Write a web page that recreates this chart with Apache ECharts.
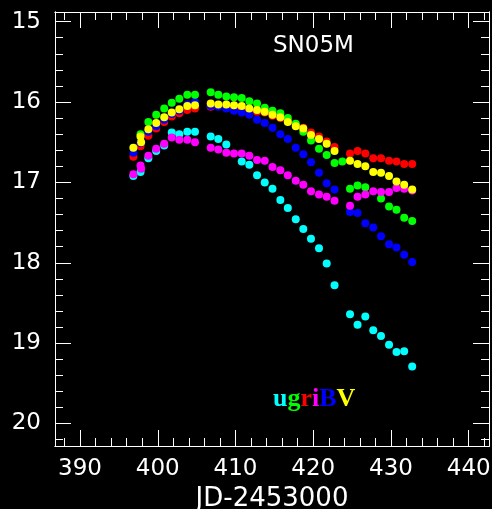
<!DOCTYPE html>
<html>
<head>
<meta charset="utf-8">
<script src="https://cdn.jsdelivr.net/npm/echarts@6/dist/echarts.min.js"></script>
<style>
html,body{margin:0;padding:0;background:#000;}
#c{width:492px;height:509px;}
</style>
</head>
<body>
<div id="c"></div>
<script>
// Epochs (JD - 2453000)
var jd = [396.86, 397.78, 397.86, 398.79, 399.80, 400.83, 401.80, 402.77, 403.80, 404.79,
          406.81, 407.79, 408.82, 409.81, 410.80, 411.78, 412.77, 413.76, 414.76, 415.77,
          416.73, 417.75, 418.72, 419.71, 420.74, 421.73, 422.74, 423.74, 424.73, 425.70,
          426.70, 427.72, 428.72, 429.75, 430.71, 431.70, 432.73];
var magU = [16.92, 16.87, null, 16.70, 16.61, 16.54, 16.38, 16.40, 16.37, 16.37,
            16.43, 16.46, 16.53, null, 16.74, 16.78, 16.91, 17.00, 17.08, 17.22,
            17.32, 17.46, 17.58, 17.70, 17.82, 18.01, 18.28, null, 18.64, 18.77,
            18.67, 18.84, 18.91, 19.02, 19.11, 19.10, 19.29];
var magR = [16.68, 16.55, null, 16.42, 16.33, 16.25, 16.18, 16.14, 16.10, 16.08,
            16.06, 16.05, 16.06, 16.07, 16.07, 16.10, 16.12, 16.13, 16.17, 16.20,
            16.24, 16.28, 16.32, 16.38, 16.43, 16.49, 16.56, null, 16.64, 16.61,
            16.64, 16.70, 16.70, 16.73, 16.74, 16.77, 16.77];
var magB = [16.63, 16.51, null, 16.37, 16.30, 16.22, 16.15, 16.11, 16.03, 16.00,
            16.05, 16.06, 16.08, 16.11, 16.13, 16.16, 16.22, 16.26, 16.32, 16.40,
            16.46, 16.57, 16.65, 16.75, 16.88, 17.01, 17.09, null, 17.37, 17.38,
            17.51, 17.56, 17.67, 17.77, 17.81, 17.90, 17.99];
var magG = [null, 16.40, null, 16.25, 16.16, 16.08, 16.01, 15.96, 15.91, 15.91,
            15.88, 15.91, 15.93, 15.94, 15.95, 15.99, 16.02, 16.07, 16.11, 16.14,
            16.20, 16.27, 16.37, 16.48, 16.58, 16.66, 16.76, 16.74, 17.08, 17.04,
            17.06, null, 17.20, 17.30, 17.34, 17.44, 17.48];
var magI = [16.90, 16.79, 16.83, 16.67, 16.58, 16.52, 16.44, 16.47, 16.47, 16.50,
            16.57, 16.59, 16.63, 16.64, 16.64, 16.67, 16.72, 16.73, 16.81, 16.85,
            16.91, 16.98, 17.03, 17.11, 17.15, 17.18, 17.23, null, 17.29, 17.18,
            17.15, 17.11, 17.12, 17.12, 17.07, 17.08, 17.10];
var magV = [16.57, 16.43, 16.50, 16.34, 16.26, 16.19, 16.13, 16.09, 16.05, 16.04,
            16.02, 16.03, 16.03, 16.04, 16.05, 16.08, 16.10, 16.12, 16.16, 16.19,
            16.25, 16.30, 16.33, 16.41, 16.46, 16.52, 16.61, null, 16.73, 16.77,
            16.80, 16.87, 16.88, 16.92, 16.99, 17.03, 17.09];

var xTicks = [390, 400, 410, 420, 430, 440];
var yTicks = [15, 16, 17, 18, 19, 20];
var title = 'SN05M';
var xName = 'JD-2453000';

var bands = [
  {name: 'u', mags: magU, color: '#00ffff'},
  {name: 'r', mags: magR, color: '#ff0000'},
  {name: 'B', mags: magB, color: '#0000ff'},
  {name: 'g', mags: magG, color: '#00ff00'},
  {name: 'i', mags: magI, color: '#ff00ff'},
  {name: 'V', mags: magV, color: '#ffff00'}
];

var xMin = 386.78, xMax = 442.61, yMin = 14.88, yMax = 20.28;
var xMinor = [], yMinor = [];
for (var k = 0; k <= 27; k++) { var v = 388 + 2 * k; if (v % 10 !== 0) xMinor.push(v); }
for (var m = 0; m <= 26; m++) { var w = Math.round((15 + 0.2 * m) * 10) / 10; if (Math.abs(w - Math.round(w)) > 1e-6) yMinor.push(w); }

var font = 'DejaVu Sans';
var lineStyle = {color: '#fff', width: 1};

function xAx(pos, ticks, len, labels) {
  var a = {
    type: 'value', position: pos, min: xMin, max: xMax,
    axisLine: {show: true, onZero: false, lineStyle: lineStyle},
    axisTick: {show: true, inside: true, length: len, customValues: ticks, lineStyle: lineStyle},
    axisLabel: {show: labels, customValues: ticks, color: '#fff', fontFamily: font, fontSize: 23, margin: 12},
    splitLine: {show: false}
  };
  if (labels) {
    a.name = xName; a.nameLocation = 'middle'; a.nameGap = 40;
    a.nameTextStyle = {color: '#fff', fontFamily: font, fontSize: 26};
  }
  return a;
}
function yAx(pos, ticks, len, labels) {
  return {
    type: 'value', position: pos, min: yMin, max: yMax, inverse: true,
    axisLine: {show: true, onZero: false, lineStyle: lineStyle},
    axisTick: {show: true, inside: true, length: len, customValues: ticks, lineStyle: lineStyle},
    axisLabel: {show: labels, customValues: ticks, color: '#fff', fontFamily: font, fontSize: 23, margin: 14},
    splitLine: {show: false}
  };
}

var series = bands.map(function (b) {
  var d = [];
  for (var j = 0; j < jd.length; j++) if (b.mags[j] != null) d.push([jd[j], b.mags[j]]);
  return {
    type: 'scatter', name: b.name, data: d, symbol: 'circle', symbolSize: 8,
    itemStyle: {color: b.color, opacity: 1}, xAxisIndex: 0, yAxisIndex: 0,
    animation: false, emphasis: {disabled: true}
  };
});

var chart = echarts.init(document.getElementById('c'), null, {renderer: 'canvas'});
chart.setOption({
  backgroundColor: '#000',
  animation: false,
  grid: {left: 55, right: 3, top: 12, bottom: 63, containLabel: false, outerBoundsMode: 'none'},
  xAxis: [xAx('bottom', xTicks, 16, true), xAx('bottom', xMinor, 8, false),
          xAx('top', xTicks, 16, false), xAx('top', xMinor, 8, false)],
  yAxis: [yAx('left', yTicks, 16, true), yAx('left', yMinor, 8, false),
          yAx('right', yTicks, 16, false), yAx('right', yMinor, 8, false)],
  series: series,
  graphic: [
    {type: 'text', left: 273, top: 35, style: {text: title, fill: '#fff', font: '23px "DejaVu Sans"'}},
    {type: 'text', left: 273, top: 386, style: {
      text: '{u|u}{g|g}{r|r}{i|i}{B|B}{V|V}',
      font: 'bold 26px "Liberation Serif"',
      rich: {
        u: {fill: '#00ffff', font: 'bold 26px "Liberation Serif"'},
        g: {fill: '#00ff00', font: 'bold 26px "Liberation Serif"'},
        r: {fill: '#ff0000', font: 'bold 26px "Liberation Serif"'},
        i: {fill: '#ff00ff', font: 'bold 26px "Liberation Serif"'},
        B: {fill: '#0000ff', font: 'bold 26px "Liberation Serif"'},
        V: {fill: '#ffff00', font: 'bold 26px "Liberation Serif"'}
      }
    }}
  ]
});
</script>
</body>
</html>
